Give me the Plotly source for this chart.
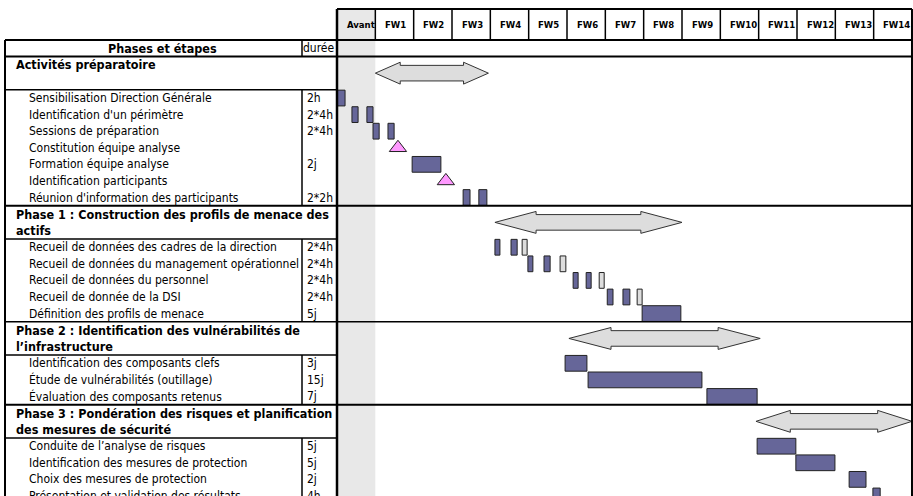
import plotly.graph_objects as go

# ---------------------------------------------------------------- data ---
week_labels = ["Avant", "FW1", "FW2", "FW3", "FW4", "FW5", "FW6", "FW7",
               "FW8", "FW9", "FW10", "FW11", "FW12", "FW13", "FW14"]

section_titles = [
    ["Activités préparatoire"],
    ["Phase 1 : Construction des profils de menace des", "actifs"],
    ["Phase 2 : Identification des vulnérabilités de", "l’infrastructure"],
    ["Phase 3 : Pondération des risques et planification", "des mesures de sécurité"],
]
# overall span of each phase (weeks, 0 = "Avant" column start)
section_span_start = [1.00, 4.12, 6.05, 10.93]
section_span_end = [3.95, 9.00, 11.04, 15.00]

prep_tasks = ["Sensibilisation Direction Générale", "Identification d'un périmètre",
              "Sessions de préparation", "Constitution équipe analyse",
              "Formation équipe analyse", "Identification participants",
              "Réunion d'information des participants"]
prep_durations = ["2h", "2*4h", "2*4h", "", "2j", "", "2*2h"]

phase1_tasks = ["Recueil de données des cadres de la direction",
                "Recueil de données du management opérationnel",
                "Recueil de données du personnel", "Recueil de donnée de la DSI",
                "Définition des profils de menace"]
phase1_durations = ["2*4h", "2*4h", "2*4h", "2*4h", "5j"]

phase2_tasks = ["Identification des composants clefs",
                "Étude de vulnérabilités (outillage)",
                "Évaluation des composants retenus"]
phase2_durations = ["3j", "15j", "7j"]

phase3_tasks = ["Conduite de l’analyse de risques",
                "Identification des mesures de protection",
                "Choix des mesures de protection",
                "Présentation et validation des résultats"]
phase3_durations = ["5j", "5j", "2j", "4h"]

# work sessions: task, start week, end week, kind
bar_task = [
    "Sensibilisation Direction Générale",
    "Identification d'un périmètre", "Identification d'un périmètre",
    "Sessions de préparation", "Sessions de préparation",
    "Formation équipe analyse",
    "Réunion d'information des participants", "Réunion d'information des participants",
    "Recueil de données des cadres de la direction", "Recueil de données des cadres de la direction",
    "Recueil de données des cadres de la direction",
    "Recueil de données du management opérationnel", "Recueil de données du management opérationnel",
    "Recueil de données du management opérationnel",
    "Recueil de données du personnel", "Recueil de données du personnel",
    "Recueil de données du personnel",
    "Recueil de donnée de la DSI", "Recueil de donnée de la DSI", "Recueil de donnée de la DSI",
    "Définition des profils de menace",
    "Identification des composants clefs",
    "Étude de vulnérabilités (outillage)",
    "Évaluation des composants retenus",
    "Conduite de l’analyse de risques",
    "Identification des mesures de protection",
    "Choix des mesures de protection",
    "Présentation et validation des résultats",
]
bar_start = [0.00, 0.39, 0.78, 0.94, 1.33, 1.96, 3.29, 3.70,
             4.12, 4.54, 4.83, 4.98, 5.40, 5.82, 6.16, 6.50, 6.84,
             7.05, 7.46, 7.83, 7.96,
             5.95, 6.55, 9.65,
             10.96, 11.97, 13.36, 13.98]
bar_end = [0.21, 0.55, 0.94, 1.10, 1.49, 2.71, 3.47, 3.91,
           4.25, 4.70, 4.96, 5.11, 5.56, 5.97, 6.29, 6.63, 6.97,
           7.20, 7.64, 7.96, 8.97,
           6.52, 9.52, 10.96,
           11.97, 12.99, 13.80, 14.17]
bar_kind = ["plan"] * 10 + ["reserve"] + ["plan", "plan", "reserve"] \
    + ["plan", "plan", "reserve"] + ["plan", "plan", "reserve"] + ["plan"] * 8

milestone_task = ["Constitution équipe analyse", "Identification participants"]
milestone_week = [1.59, 2.84]

# ------------------------------------------------------------ geometry ---
PX_WEEK = 38.333          # width of one week column
X0_PX = 337               # left edge of the timeline
ROW_PX = 16.58            # height of one table row
Y0_PX = 40                # top of the "Phases et étapes" row
W, H = 913, 496


def col(px):
    """Horizontal table position expressed in week units."""
    return (px - X0_PX) / PX_WEEK


X_LEFT = col(5)
X_DUREE = col(302)
X_END = 15.0
R_TOP = (9 - Y0_PX) / ROW_PX
R_BOTTOM = (H - Y0_PX) / ROW_PX

FONT = "Tahoma, 'DejaVu Sans Condensed', 'DejaVu Sans', sans-serif"
BAR_FILL = "#666699"
RESERVE_FILL = "#DDDDDD"
EDGE = "#222222"

# row layout: "Phases et étapes" row, then for each section a 2-row header
task_groups = [(prep_tasks, prep_durations), (phase1_tasks, phase1_durations),
               (phase2_tasks, phase2_durations), (phase3_tasks, phase3_durations)]
row_of = {}
section_top = []
task_box = []
r = 1
for tasks, _ in task_groups:
    section_top.append(r)
    r += 2
    task_box.append((r, r + len(tasks)))
    for t in tasks:
        row_of[t] = r + 0.5
        r += 1

fig = go.Figure()
shapes = []
annotations = []


def label(x, y, text, size=12, anchor="left"):
    annotations.append(dict(x=x, y=y, xref="x", yref="y", text=text, showarrow=False,
                            xanchor=anchor, yanchor="middle",
                            font=dict(family=FONT, size=size, color="black")))


# shaded "Avant" column
shapes.append(dict(type="rect", xref="x", yref="y", x0=0, x1=1, y0=R_TOP, y1=R_BOTTOM + 1,
                   fillcolor="#E8E8E8", line=dict(width=0), layer="below"))


def hline(y, x0, x1, w=2):
    shapes.append(dict(type="line", xref="x", yref="y", x0=x0, x1=x1, y0=y, y1=y,
                       line=dict(color="black", width=w)))


def vline(x, y0, y1, w=2):
    shapes.append(dict(type="line", xref="x", yref="y", x0=x, x1=x, y0=y0, y1=y1,
                       line=dict(color="black", width=w)))


# timeline header
hline(R_TOP, 0, X_END)
for k in range(1, 15):
    vline(k, R_TOP, 0, 1.5)
for k, lab in enumerate(week_labels):
    label(k + 0.2, R_TOP / 2, f"<b>{lab}</b>", size=9.5)

# table frame
hline(0, X_LEFT, X_END)
hline(1, X_LEFT, X_END)
vline(X_LEFT, 0, R_BOTTOM + 1)
vline(0, R_TOP, R_BOTTOM + 1, 2.5)
vline(X_END, R_TOP, R_BOTTOM + 1)
vline(X_DUREE, 0, 1, 1.5)
label(col(162), 0.5, "<b>Phases et étapes</b>", size=12.5, anchor="center")
label(col(301), 0.5, "durée")

for i, (tasks, durs) in enumerate(task_groups):
    top = section_top[i]
    if i > 0:
        hline(top, X_LEFT, X_END, 2 if i != 2 else 1.5)
    b0, b1 = task_box[i]
    hline(b0, X_LEFT, 0, 1.5)
    vline(X_DUREE, b0, b1, 1.5)
    for j, line in enumerate(section_titles[i]):
        label(col(14), top + j + 0.5, f"<b>{line}</b>", size=12.5)
    for t, d in zip(tasks, durs):
        label(col(27), row_of[t], t)
        if d:
            label(col(305), row_of[t], d)

    # phase span arrow
    s, e = section_span_start[i], section_span_end[i]
    c = top + 1
    h = 0.22 * (e - s)
    a, bh = 0.47, 0.66
    xs = [s, s + h, s + h, e - h, e - h, e, e - h, e - h, s + h, s + h, s]
    ys = [c, c - bh, c - a, c - a, c - bh, c, c + bh, c + a, c + a, c + bh, c]
    fig.add_trace(go.Scatter(x=xs, y=ys, mode="lines", fill="toself", fillcolor="#DDDDDD",
                             line=dict(color="#333333", width=1), hoverinfo="skip"))

# work sessions
for kind, fill in (("plan", BAR_FILL), ("reserve", RESERVE_FILL)):
    idx = [k for k, kd in enumerate(bar_kind) if kd == kind]
    fig.add_trace(go.Bar(
        orientation="h",
        y=[row_of[bar_task[k]] for k in idx],
        base=[bar_start[k] for k in idx],
        x=[bar_end[k] - bar_start[k] for k in idx],
        width=0.95,
        marker=dict(color=fill, line=dict(color=EDGE, width=1)),
        hoverinfo="skip",
    ))

# milestones
fig.add_trace(go.Scatter(
    x=milestone_week, y=[row_of[t] for t in milestone_task], mode="markers",
    marker=dict(symbol="triangle-up", size=15, color="#FF99FF",
                line=dict(color="#222222", width=1)),
    hoverinfo="skip"))

fig.update_layout(
    width=W, height=H, margin=dict(l=0, r=0, t=0, b=0),
    paper_bgcolor="white", plot_bgcolor="white", showlegend=False,
    barmode="overlay", shapes=shapes, annotations=annotations,
    xaxis=dict(range=[col(0), col(W)], visible=False, fixedrange=True),
    yaxis=dict(range=[R_BOTTOM, -Y0_PX / ROW_PX], visible=False, fixedrange=True),
)

fig.write_html("out.html", config={"displayModeBar": False})
